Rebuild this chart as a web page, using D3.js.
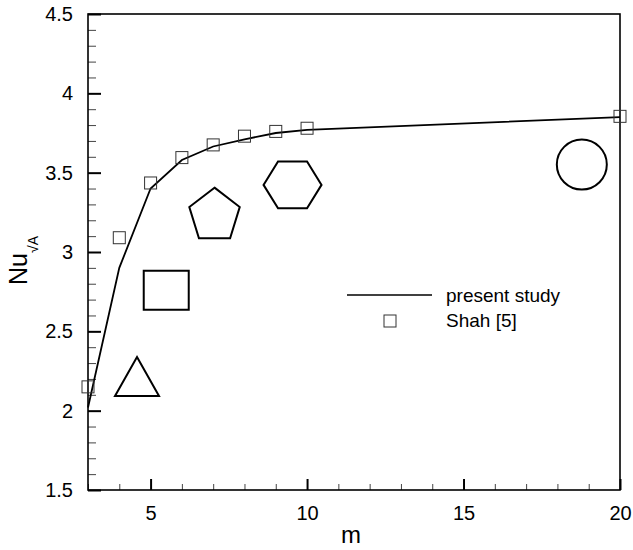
<!DOCTYPE html>
<html>
<head>
<meta charset="utf-8">
<script src="https://cdn.jsdelivr.net/npm/d3@7"></script>
<style>
  body { margin: 0; background: #fff; }
  svg { display: block; font-family: "Liberation Sans", Arial, sans-serif; }
</style>
</head>
<body>
<svg id="chart" width="633" height="550"></svg>
<script>
// present study (solid line)
var studyM  = [3, 4, 5, 6, 7, 8, 9, 10, 20];
var studyNu = [2.02, 2.90, 3.40, 3.58, 3.665, 3.71, 3.75, 3.77, 3.85];
// Shah [5] (square symbols)
var shahM  = [3, 4, 5, 6, 7, 8, 9, 10, 20];
var shahNu = [2.15, 3.09, 3.435, 3.595, 3.675, 3.73, 3.76, 3.78, 3.855];
// cross-section icons drawn in the plot
var shapeNames = ["triangle", "square", "pentagon", "hexagon", "circle"];
var shapeM     = [4.566, 5.50, 7.043, 9.536, 18.78];
var shapeNu    = [2.215, 2.759, 3.229, 3.423, 3.551];

var xTicks = [5, 10, 15, 20];
var yTicks = [1.5, 2, 2.5, 3, 3.5, 4, 4.5];

var svg = d3.select("#chart");
var pLeft = 88, pRight = 620, pTop = 14, pBottom = 490;

var x = d3.scaleLinear().domain([3, 20]).range([pLeft, pRight]);
var y = d3.scaleLinear().domain([1.5, 4.5]).range([pBottom, pTop]);

// minor ticks
var xMinor = d3.range(3, 20.01, 1).filter(function(v) { return xTicks.indexOf(v) < 0; });
var yMinor = d3.range(15, 45.01, 1).map(function(v) { return v / 10; })
  .filter(function(v) { return yTicks.indexOf(v) < 0; });

svg.append("g")
  .attr("transform", "translate(0," + pBottom + ")")
  .call(d3.axisBottom(x).tickValues(xMinor).tickSizeInner(-6).tickSizeOuter(0).tickFormat(""))
  .call(function(g) { g.select(".domain").remove(); g.selectAll("line").attr("stroke", "#444").attr("stroke-width", 1); });

svg.append("g")
  .attr("transform", "translate(" + pLeft + ",0)")
  .call(d3.axisLeft(y).tickValues(yMinor).tickSizeInner(-8).tickSizeOuter(0).tickFormat(""))
  .call(function(g) { g.select(".domain").remove(); g.selectAll("line").attr("stroke", "#444").attr("stroke-width", 1); });

// major ticks + labels
var xAxis = svg.append("g")
  .attr("transform", "translate(0," + pBottom + ")")
  .call(d3.axisBottom(x).tickValues(xTicks).tickSizeInner(-11).tickSizeOuter(0).tickPadding(16));
xAxis.select(".domain").remove();
xAxis.selectAll("line").attr("stroke", "#000").attr("stroke-width", 2);
xAxis.selectAll("text").attr("font-size", 20).attr("fill", "#000").attr("font-family", "Liberation Sans, Arial, sans-serif");

var yAxis = svg.append("g")
  .attr("transform", "translate(" + pLeft + ",0)")
  .call(d3.axisLeft(y).tickValues(yTicks).tickSizeInner(-13).tickSizeOuter(0).tickPadding(15)
    .tickFormat(d3.format("")));
yAxis.select(".domain").remove();
yAxis.selectAll("line").attr("stroke", "#000").attr("stroke-width", 2);
yAxis.selectAll("text").attr("font-size", 20).attr("fill", "#000").attr("font-family", "Liberation Sans, Arial, sans-serif");

// frame
svg.append("rect")
  .attr("x", pLeft).attr("y", pTop)
  .attr("width", pRight - pLeft).attr("height", pBottom - pTop)
  .attr("fill", "none").attr("stroke", "#000").attr("stroke-width", 1.6);

// present study line
var line = d3.line()
  .x(function(d) { return x(d[0]); })
  .y(function(d) { return y(d[1]); });
svg.append("path")
  .datum(d3.zip(studyM, studyNu))
  .attr("d", line)
  .attr("fill", "none").attr("stroke", "#000").attr("stroke-width", 1.8);

// Shah squares
var sq = 12;
svg.selectAll("rect.shah")
  .data(d3.zip(shahM, shahNu))
  .enter().append("rect")
  .attr("class", "shah")
  .attr("x", function(d) { return x(d[0]) - sq / 2; })
  .attr("y", function(d) { return y(d[1]) - sq / 2; })
  .attr("width", sq).attr("height", sq)
  .attr("fill", "none").attr("stroke", "#333").attr("stroke-width", 1);

// shape icons
function polyPoints(cx, cy, n, rx, ry, rot) {
  return d3.range(n).map(function(i) {
    var a = rot + i * 2 * Math.PI / n;
    return [cx + rx * Math.cos(a), cy + ry * Math.sin(a)];
  });
}
var closedLine = d3.line().curve(d3.curveLinearClosed);
shapeNames.forEach(function(name, i) {
  var cx = x(shapeM[i]), cy = y(shapeNu[i]), pts;
  if (name === "circle") {
    svg.append("circle").attr("cx", cx).attr("cy", cy).attr("r", 25)
      .attr("fill", "none").attr("stroke", "#000").attr("stroke-width", 2);
    return;
  }
  if (name === "triangle") {
    pts = [[cx, cy - 19.5], [cx + 22, cy + 19.5], [cx - 22, cy + 19.5]];
  } else if (name === "square") {
    pts = [[cx - 22.5, cy - 19.5], [cx + 22.5, cy - 19.5], [cx + 22.5, cy + 19.5], [cx - 22.5, cy + 19.5]];
  } else if (name === "pentagon") {
    pts = polyPoints(cx, cy, 5, 26.5, 28, -Math.PI / 2);
  } else {
    pts = polyPoints(cx, cy, 6, 29, 27.1, 0);
  }
  svg.append("path").attr("d", closedLine(pts))
    .attr("fill", "none").attr("stroke", "#000").attr("stroke-width", 2);
});

// legend
var lg = svg.append("g").attr("font-size", 19);
lg.append("line").attr("x1", 347).attr("x2", 432).attr("y1", 295).attr("y2", 295)
  .attr("stroke", "#000").attr("stroke-width", 1.6);
lg.append("text").attr("x", 446).attr("y", 295).attr("dy", "0.35em").text("present study");
lg.append("rect").attr("x", 390 - sq / 2).attr("y", 321 - sq / 2).attr("width", sq).attr("height", sq)
  .attr("fill", "none").attr("stroke", "#333").attr("stroke-width", 1);
lg.append("text").attr("x", 446).attr("y", 320).attr("dy", "0.35em").text("Shah [5]");

// axis titles
svg.append("text")
  .attr("x", (pLeft + pRight) / 2 - 3).attr("y", 543)
  .attr("text-anchor", "middle").attr("font-size", 24)
  .text("m");

var yt = svg.append("text")
  .attr("transform", "translate(27,285) rotate(-90)")
  .attr("font-size", 25);
yt.append("tspan").text("Nu");
yt.append("tspan").attr("font-size", 14).attr("dy", 11).text("\u221AA");
</script>
</body>
</html>
